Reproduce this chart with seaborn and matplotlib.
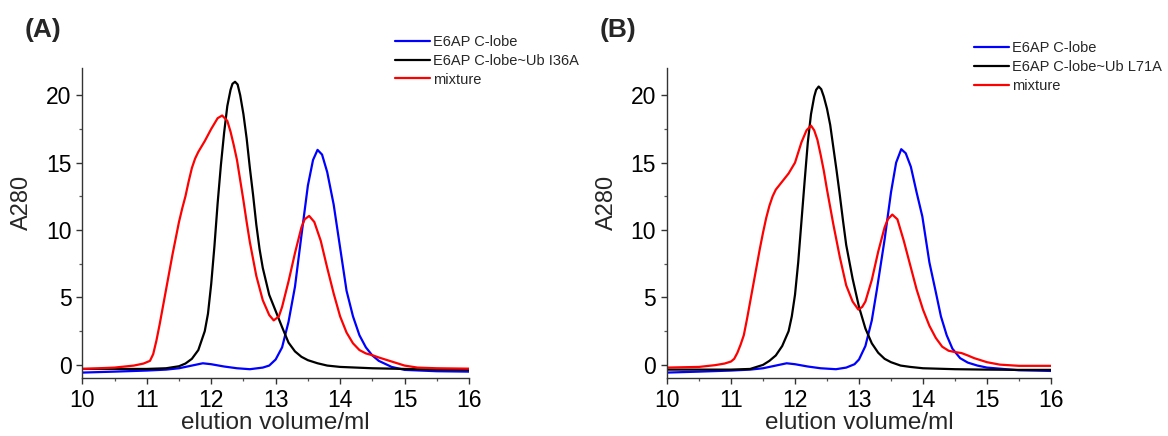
import numpy as np
import pandas as pd
import matplotlib
matplotlib.use("Agg")
import matplotlib.pyplot as plt
import seaborn as sns
from matplotlib.ticker import MultipleLocator

sns.set_theme(style="ticks")
plt.rcParams['font.family'] = ['Liberation Sans', 'DejaVu Sans']

# ---------------- data ----------------
blue_A_x = [10.0, 10.5, 11.0, 11.3, 11.5, 11.7, 11.87, 12.0, 12.2, 12.4, 12.6, 12.8, 12.9, 13.0, 13.1,
            13.2, 13.3, 13.4, 13.5, 13.58, 13.65, 13.72, 13.8, 13.9, 14.0, 14.1, 14.2, 14.3, 14.4, 14.5,
            14.6, 14.8, 15.0, 15.5, 16.0]
blue_A_y = [-0.57, -0.5, -0.42, -0.35, -0.25, -0.05, 0.12, 0.05, -0.12, -0.25, -0.32, -0.2, -0.05, 0.4, 1.3,
            3.2, 5.8, 9.6, 13.3, 15.2, 15.95, 15.6, 14.3, 11.9, 8.7, 5.5, 3.6, 2.2, 1.3, 0.7,
            0.3, -0.15, -0.37, -0.47, -0.5]

black_A_x = [10.0, 10.5, 11.0, 11.3, 11.5, 11.6, 11.7, 11.8, 11.9, 11.95, 12.0, 12.05, 12.1, 12.15, 12.2,
             12.25, 12.3, 12.33, 12.37, 12.41, 12.45, 12.5, 12.55, 12.6, 12.65, 12.7, 12.75, 12.8, 12.9, 13.0,
             13.1, 13.2, 13.3, 13.4, 13.5, 13.65, 13.8, 14.0, 14.5, 15.0, 15.5, 16.0]
black_A_y = [-0.3, -0.3, -0.3, -0.25, -0.1, 0.1, 0.45, 1.1, 2.5, 3.8, 6.0, 8.8, 12.0, 14.8, 17.2,
             19.2, 20.4, 20.85, 21.0, 20.8, 20.0, 18.6, 16.8, 14.6, 12.6, 10.4, 8.6, 7.2, 5.2, 4.0,
             2.8, 1.65, 1.0, 0.6, 0.35, 0.12, -0.05, -0.15, -0.25, -0.3, -0.35, -0.37]

red_A_x = [10.0, 10.5, 10.8, 10.95, 11.05, 11.1, 11.15, 11.2, 11.25, 11.3, 11.35, 11.4, 11.45, 11.5, 11.55,
           11.6, 11.65, 11.7, 11.75, 11.8, 11.9, 12.0, 12.1, 12.17, 12.25, 12.3, 12.35, 12.4, 12.45, 12.5,
           12.55, 12.6, 12.7, 12.8, 12.9, 12.97, 13.05, 13.1, 13.2, 13.3, 13.4, 13.45, 13.52, 13.6, 13.7,
           13.8, 13.9, 14.0, 14.1, 14.2, 14.3, 14.4, 14.5, 14.6, 14.8, 15.0, 15.2, 15.5, 16.0]
red_A_y = [-0.3, -0.2, -0.05, 0.1, 0.3, 0.8, 1.8, 3.0, 4.3, 5.6, 6.9, 8.2, 9.4, 10.6, 11.6,
           12.5, 13.6, 14.6, 15.3, 15.8, 16.6, 17.5, 18.3, 18.5, 18.1, 17.3, 16.3, 15.2, 13.7, 12.2,
           10.6, 9.1, 6.6, 4.8, 3.7, 3.3, 3.6, 4.3, 6.2, 8.3, 10.2, 10.8, 11.05, 10.6, 9.2,
           7.2, 5.3, 3.6, 2.4, 1.6, 1.1, 0.85, 0.72, 0.55, 0.25, -0.05, -0.2, -0.25, -0.28]

blue_B_x = [10.0, 10.5, 11.0, 11.3, 11.5, 11.7, 11.87, 12.0, 12.2, 12.4, 12.64, 12.8, 12.93, 13.0, 13.1,
            13.2, 13.28, 13.4, 13.5, 13.58, 13.66, 13.73, 13.81, 13.9, 13.99, 14.1, 14.2, 14.28, 14.37, 14.46,
            14.58, 14.7, 14.85, 15.0, 15.5, 16.0]
blue_B_y = [-0.57, -0.5, -0.42, -0.35, -0.25, -0.05, 0.12, 0.05, -0.12, -0.25, -0.32, -0.2, 0.05, 0.4, 1.4,
            3.3, 5.6, 9.3, 12.8, 15.0, 16.0, 15.7, 14.7, 12.8, 11.0, 7.6, 5.4, 3.6, 2.2, 1.2,
            0.5, 0.17, -0.05, -0.2, -0.4, -0.45]

black_B_x = [10.0, 10.5, 11.0, 11.3, 11.5, 11.6, 11.7, 11.8, 11.9, 11.95, 12.0, 12.05, 12.1, 12.15, 12.2,
             12.25, 12.3, 12.33, 12.37, 12.41, 12.45, 12.5, 12.55, 12.6, 12.65, 12.7, 12.75, 12.8, 12.9, 13.0,
             13.1, 13.2, 13.3, 13.4, 13.5, 13.65, 13.8, 14.0, 14.5, 15.0, 15.5, 16.0]
black_B_y = [-0.35, -0.35, -0.35, -0.3, 0.0, 0.3, 0.7, 1.4, 2.5, 3.6, 5.2, 7.6, 10.6, 13.6, 16.5,
             18.6, 19.9, 20.4, 20.65, 20.45, 19.9, 19.0, 17.8, 16.1, 14.4, 12.6, 10.7, 8.9, 6.4, 4.3,
             2.7, 1.6, 0.9, 0.45, 0.2, -0.05, -0.15, -0.25, -0.32, -0.35, -0.37, -0.37]

red_B_x = [10.0, 10.5, 10.75, 10.9, 11.0, 11.05, 11.1, 11.15, 11.2, 11.25, 11.3, 11.35, 11.4, 11.45, 11.5,
           11.55, 11.6, 11.65, 11.7, 11.75, 11.8, 11.9, 12.0, 12.1, 12.18, 12.25, 12.3, 12.35, 12.4, 12.45,
           12.5, 12.55, 12.6, 12.7, 12.8, 12.9, 12.99, 13.05, 13.1, 13.2, 13.3, 13.4, 13.45, 13.52, 13.6,
           13.7, 13.8, 13.9, 14.0, 14.1, 14.2, 14.3, 14.4, 14.5, 14.6, 14.7, 14.8, 15.0, 15.2, 15.5, 16.0]
red_B_y = [-0.2, -0.15, -0.02, 0.1, 0.25, 0.45, 0.9, 1.5, 2.2, 3.4, 4.7, 6.0, 7.3, 8.6, 9.8,
           10.9, 11.8, 12.5, 13.0, 13.3, 13.6, 14.2, 15.0, 16.5, 17.4, 17.75, 17.4, 16.7, 15.6, 14.4,
           13.0, 11.7, 10.4, 8.0, 5.9, 4.7, 4.1, 4.3, 4.7, 6.3, 8.4, 10.2, 10.8, 11.15, 10.8,
           9.2, 7.4, 5.6, 4.1, 2.9, 2.0, 1.35, 1.05, 0.95, 0.88, 0.7, 0.5, 0.2, 0.02, -0.07, -0.07]

series_labels = ["E6AP C-lobe", "E6AP C-lobe~Ub I36A", "E6AP C-lobe~Ub L71A", "mixture"]
panel_titles = ["(A)", "(B)"]
x_ticks = [10, 11, 12, 13, 14, 15, 16]
y_ticks = [0, 5, 10, 15, 20]

# ---------------- figure ----------------
W, H = 1168, 436
fig = plt.figure(figsize=(W / 100, H / 100), dpi=100)

def frac_box(l, t, r, b):
    return [l / W, 1 - b / H, (r - l) / W, (b - t) / H]

axA = fig.add_axes(frac_box(82.3, 68.3, 469, 377.7))
axB = fig.add_axes(frac_box(667, 68.3, 1051, 377.7))

panels = [
    (axA, [(blue_A_x, blue_A_y, series_labels[0], "#0000ff"),
           (black_A_x, black_A_y, series_labels[1], "#000000"),
           (red_A_x, red_A_y, series_labels[3], "#ff0000")], (0.809, 1.108)),
    (axB, [(blue_B_x, blue_B_y, series_labels[0], "#0000ff"),
           (black_B_x, black_B_y, series_labels[2], "#000000"),
           (red_B_x, red_B_y, series_labels[3], "#ff0000")], (0.80, 1.088)),
]

for ax, series, lg_anchor in panels:
    for xs, ys, lab, col in series:
        df = pd.DataFrame({"x": xs, "y": ys})
        sns.lineplot(data=df, x="x", y="y", ax=ax, color=col, lw=1.6, label=lab,
                     sort=False, estimator=None)
    ax.set_xlim(10, 16)
    ax.set_ylim(-0.95, 22)
    ax.set_xticks(x_ticks)
    ax.set_yticks(y_ticks)
    ax.xaxis.set_minor_locator(MultipleLocator(0.5))
    ax.yaxis.set_minor_locator(MultipleLocator(2.5))
    ax.tick_params(axis="both", which="major", labelsize=16.5, length=4.3, width=1.0,
                   color="#333333", labelcolor="black", pad=3.5)
    ax.tick_params(axis="both", which="minor", length=2.3, width=0.9, color="#555555")
    for s in ["top", "right"]:
        ax.spines[s].set_visible(False)
    for s in ["left", "bottom"]:
        ax.spines[s].set_linewidth(1.0)
        ax.spines[s].set_color("#333333")
    ax.set_xlabel("elution volume/ml", fontsize=17.5, labelpad=0)
    ax.set_ylabel("")
    ax.legend(loc="upper left", bbox_to_anchor=lg_anchor, frameon=False, fontsize=10.5,
              handlelength=2.4, handletextpad=0.2, labelspacing=0.33, borderaxespad=0,
              borderpad=0)

# y labels "A280"
for xc in (22, 607):
    fig.text(xc / W, 1 - 202 / H, "A280", rotation=90, fontsize=17, ha="center", va="center")

# panel titles
fig.text(43 / W, 1 - 30 / H, panel_titles[0], fontsize=19, fontweight="bold", ha="center", va="center")
fig.text(618 / W, 1 - 30 / H, panel_titles[1], fontsize=19, fontweight="bold", ha="center", va="center")

fig.savefig("out.png", dpi=100, facecolor="white")
